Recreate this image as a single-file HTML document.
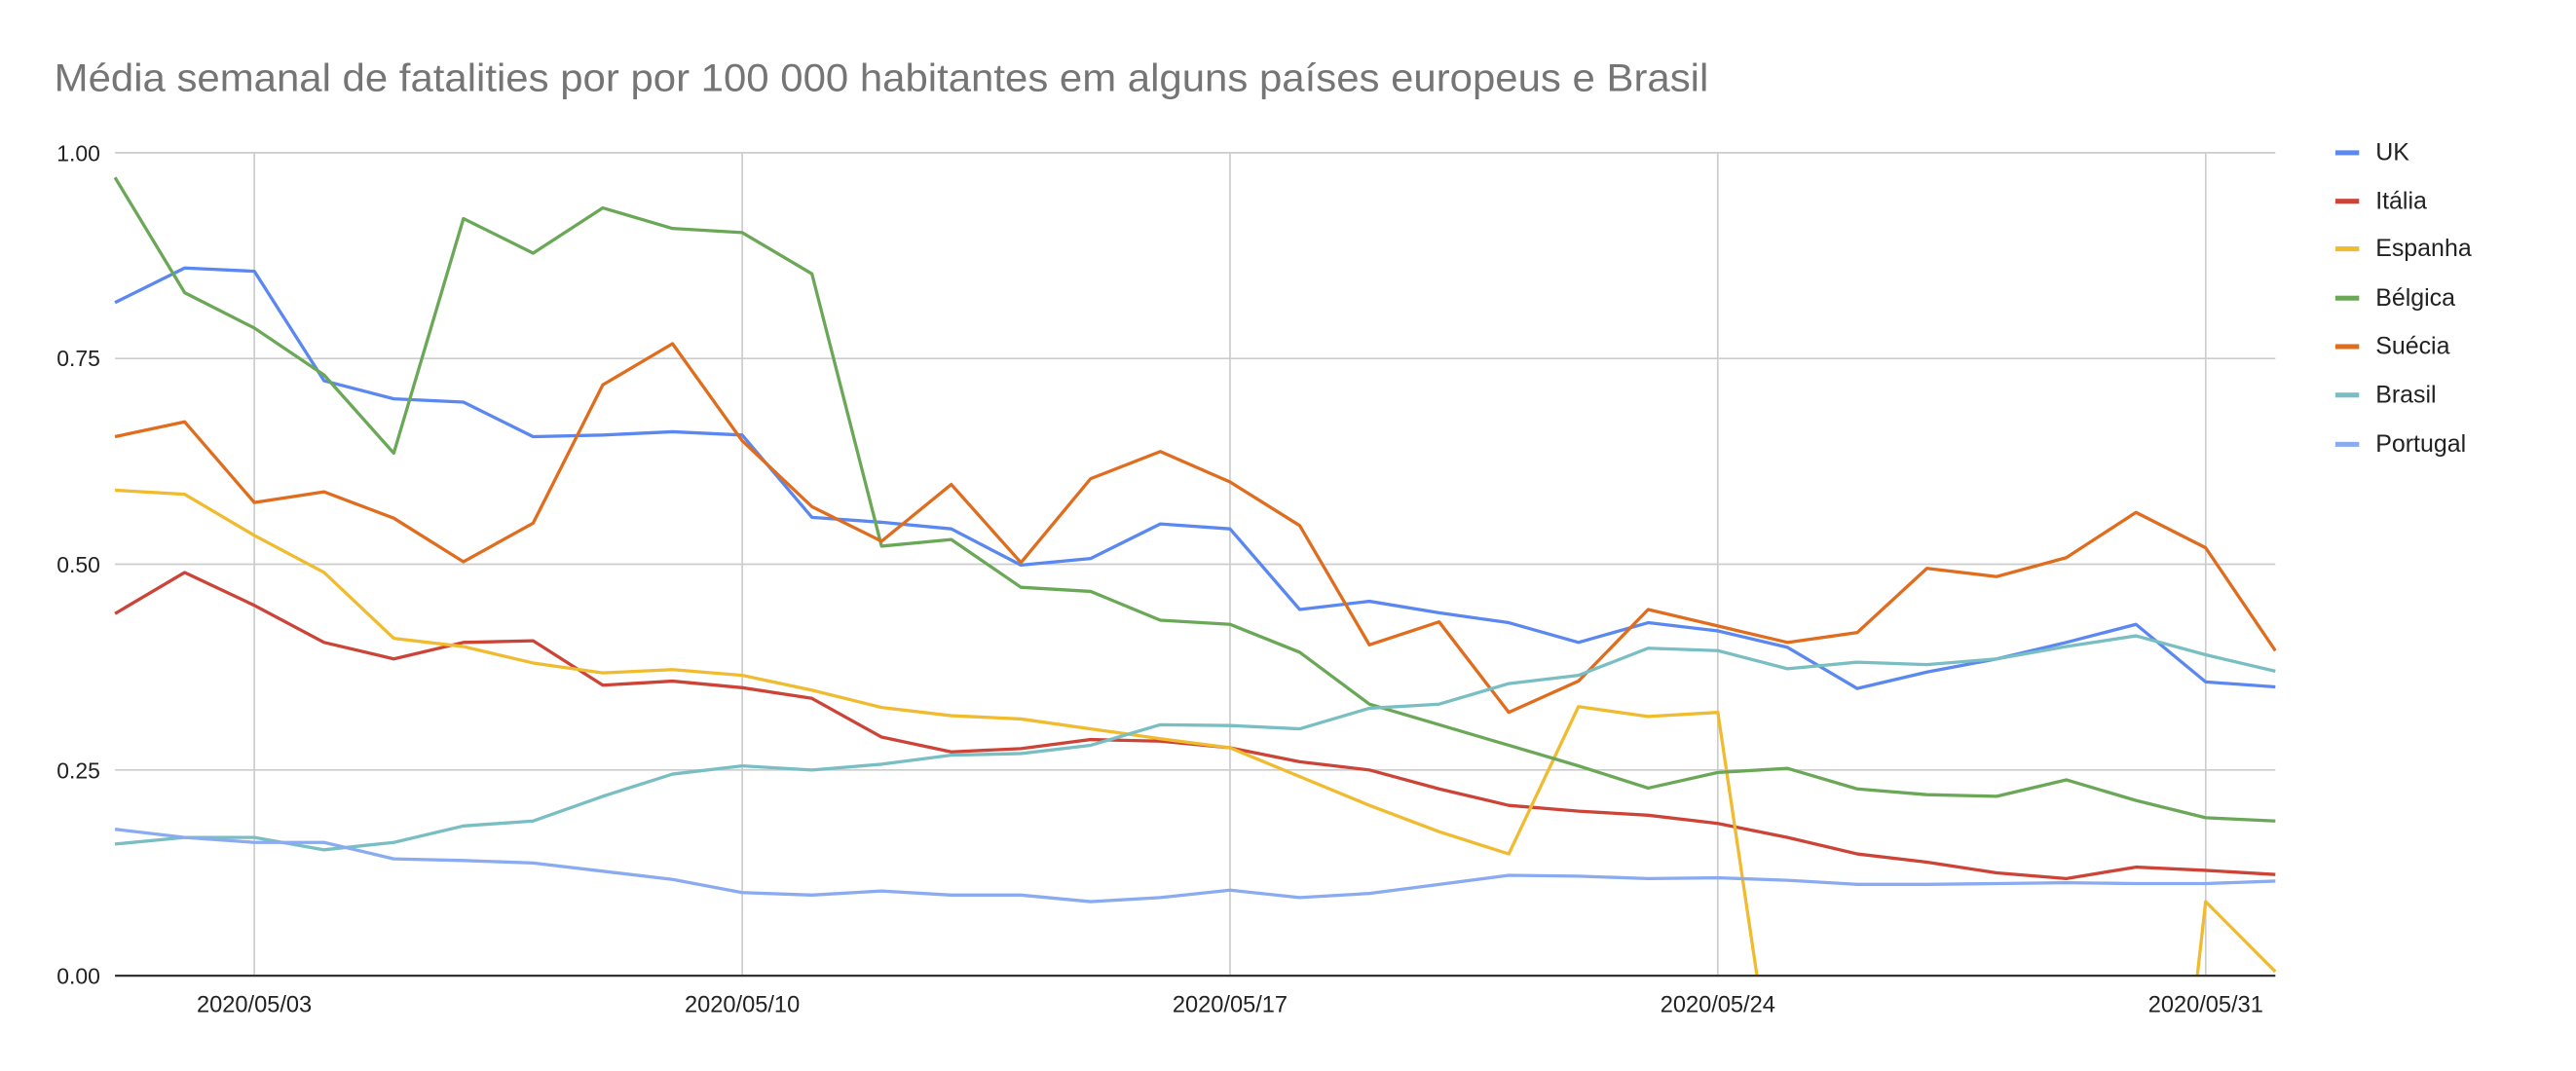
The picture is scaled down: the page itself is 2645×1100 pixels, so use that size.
<!DOCTYPE html>
<html><head><meta charset="utf-8"><style>
html,body{margin:0;padding:0;background:#fff;width:2645px;height:1100px;overflow:hidden;}
svg{display:block;}
text{font-family:"Liberation Sans",Arial,sans-serif;}
</style></head><body>
<svg width="2645" height="1100" viewBox="0 0 1568 652" preserveAspectRatio="none" xmlns="http://www.w3.org/2000/svg">
<rect width="1568" height="652" fill="#fff"/>
<text x="33" y="55.5" font-size="23.5" fill="#757575" textLength="1007" lengthAdjust="spacingAndGlyphs">Média semanal de fatalities por por  100 000 habitantes em alguns países europeus e Brasil</text>
<g stroke="#cccccc" stroke-width="1">
<line x1="70" y1="93" x2="1385" y2="93"/>
<line x1="70" y1="218.25" x2="1385" y2="218.25"/>
<line x1="70" y1="343.5" x2="1385" y2="343.5"/>
<line x1="70" y1="468.75" x2="1385" y2="468.75"/>
<line x1="154.8" y1="93" x2="154.8" y2="594"/>
<line x1="451.8" y1="93" x2="451.8" y2="594"/>
<line x1="748.7" y1="93" x2="748.7" y2="594"/>
<line x1="1045.6" y1="93" x2="1045.6" y2="594"/>
<line x1="1342.6" y1="93" x2="1342.6" y2="594"/>
</g>
<g font-size="13.6" fill="#222" text-anchor="end">
<text x="61" y="98">1.00</text>
<text x="61" y="223">0.75</text>
<text x="61" y="348.5">0.50</text>
<text x="61" y="474">0.25</text>
<text x="61" y="599">0.00</text>
</g>
<g font-size="14" fill="#222" text-anchor="middle">
<text x="154.8" y="616">2020/05/03</text>
<text x="451.8" y="616">2020/05/10</text>
<text x="748.7" y="616">2020/05/17</text>
<text x="1045.6" y="616">2020/05/24</text>
<text x="1342.6" y="616">2020/05/31</text>
</g>
<defs><clipPath id="cp"><rect x="60" y="80" width="1340" height="514"/></clipPath></defs>
<g clip-path="url(#cp)">
<g transform="matrix(42.4194 0 0 -501 70 594)" fill="none" stroke-width="3.3" stroke-linejoin="round">
<polyline vector-effect="non-scaling-stroke" stroke="#5b87f0" points="0,0.818 1,0.860 2,0.856 3,0.723 4,0.701 5,0.697 6,0.655 7,0.657 8,0.661 9,0.657 10,0.557 11,0.551 12,0.543 13,0.499 14,0.507 15,0.549 16,0.543 17,0.445 18,0.455 19,0.441 20,0.429 21,0.405 22,0.429 23,0.419 24,0.399 25,0.349 26,0.369 27,0.385 28,0.405 29,0.427 30,0.357 31,0.351"/>
<polyline vector-effect="non-scaling-stroke" stroke="#cc4437" points="0,0.44 1,0.49 2,0.45 3,0.405 4,0.385 5,0.405 6,0.407 7,0.353 8,0.358 9,0.35 10,0.337 11,0.29 12,0.272 13,0.276 14,0.287 15,0.285 16,0.277 17,0.26 18,0.25 19,0.227 20,0.207 21,0.2 22,0.195 23,0.185 24,0.168 25,0.148 26,0.138 27,0.125 28,0.118 29,0.132 30,0.128 31,0.123"/>
<polyline vector-effect="non-scaling-stroke" stroke="#f0bb2f" points="0,0.59 1,0.585 2,0.535 3,0.49 4,0.41 5,0.4 6,0.38 7,0.368 8,0.372 9,0.365 10,0.347 11,0.326 12,0.316 13,0.312 14,0.3 15,0.288 16,0.277 17,0.242 18,0.207 19,0.175 20,0.148 21,0.327 22,0.315 23,0.32 24,-0.25 25,-0.4 26,-0.5 27,-0.6 28,-0.65 29,-0.66 30,0.09 31,0.005"/>
<polyline vector-effect="non-scaling-stroke" stroke="#6aa858" points="0,0.97 1,0.83 2,0.787 3,0.73 4,0.635 5,0.92 6,0.878 7,0.933 8,0.908 9,0.903 10,0.853 11,0.522 12,0.53 13,0.472 14,0.467 15,0.432 16,0.427 17,0.393 18,0.33 19,0.305 20,0.28 21,0.255 22,0.228 23,0.247 24,0.252 25,0.227 26,0.22 27,0.218 28,0.238 29,0.213 30,0.192 31,0.188"/>
<polyline vector-effect="non-scaling-stroke" stroke="#e06c1e" points="0,0.655 1,0.673 2,0.575 3,0.588 4,0.556 5,0.503 6,0.55 7,0.718 8,0.768 9,0.65 10,0.57 11,0.528 12,0.597 13,0.502 14,0.604 15,0.637 16,0.6 17,0.547 18,0.402 19,0.43 20,0.32 21,0.358 22,0.445 23,0.425 24,0.405 25,0.417 26,0.495 27,0.485 28,0.508 29,0.563 30,0.52 31,0.395"/>
<polyline vector-effect="non-scaling-stroke" stroke="#79bec3" points="0,0.16 1,0.168 2,0.168 3,0.153 4,0.162 5,0.182 6,0.188 7,0.218 8,0.245 9,0.255 10,0.25 11,0.257 12,0.268 13,0.27 14,0.28 15,0.305 16,0.304 17,0.3 18,0.325 19,0.33 20,0.355 21,0.365 22,0.398 23,0.395 24,0.373 25,0.381 26,0.378 27,0.385 28,0.4 29,0.413 30,0.39 31,0.37"/>
<polyline vector-effect="non-scaling-stroke" stroke="#8aabf0" points="0,0.178 1,0.168 2,0.162 3,0.162 4,0.142 5,0.14 6,0.137 7,0.127 8,0.117 9,0.101 10,0.098 11,0.103 12,0.098 13,0.098 14,0.09 15,0.095 16,0.104 17,0.095 18,0.1 19,0.111 20,0.122 21,0.121 22,0.118 23,0.119 24,0.116 25,0.111 26,0.111 27,0.112 28,0.113 29,0.112 30,0.112 31,0.115"/>
</g>
</g>
<line x1="70" y1="594" x2="1385" y2="594" stroke="#333" stroke-width="1.3"/>
<g font-size="14.8" fill="#222">
<rect x="1421.5" y="91.5" width="14.5" height="3" fill="#5b87f0"/><text x="1446" y="97.5">UK</text>
<rect x="1421.5" y="121" width="14.5" height="3" fill="#cc4437"/><text x="1446" y="127">Itália</text>
<rect x="1421.5" y="150" width="14.5" height="3" fill="#f0bb2f"/><text x="1446" y="156">Espanha</text>
<rect x="1421.5" y="180" width="14.5" height="3" fill="#6aa858"/><text x="1446" y="186">Bélgica</text>
<rect x="1421.5" y="209.5" width="14.5" height="3" fill="#e06c1e"/><text x="1446" y="215.5">Suécia</text>
<rect x="1421.5" y="239" width="14.5" height="3" fill="#79bec3"/><text x="1446" y="245">Brasil</text>
<rect x="1421.5" y="269" width="14.5" height="3" fill="#8aabf0"/><text x="1446" y="275">Portugal</text>
</g>
</svg>
</body></html>
